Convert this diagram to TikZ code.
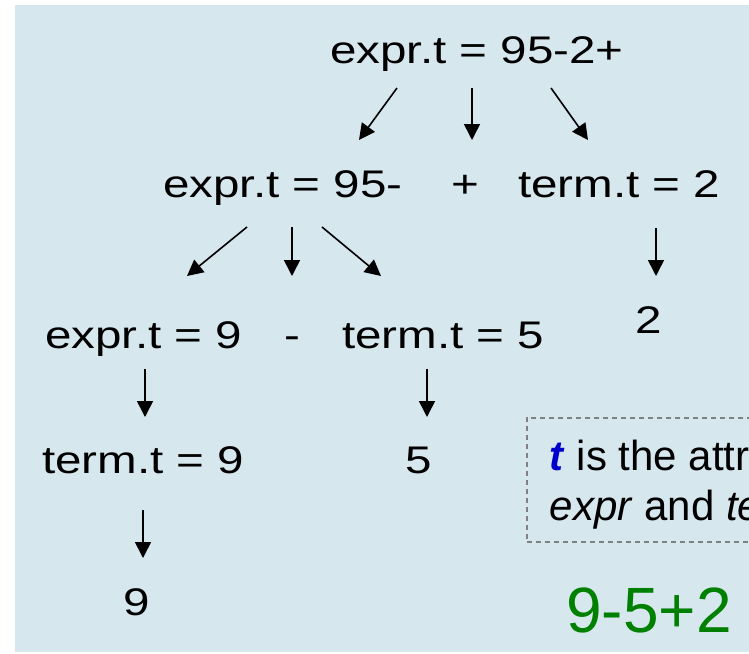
\documentclass[tikz,border=0pt]{standalone}
\usepackage{fontspec}
\setmainfont{Liberation Sans}
\newfontfamily\treefont[FakeStretch=1.235]{Liberation Sans}
\usetikzlibrary{arrows.meta, calc}
\definecolor{panelblue}{RGB}{214,231,237}
\definecolor{notegray}{RGB}{128,128,128}
\definecolor{attrblue}{RGB}{0,0,204}
\definecolor{resultgreen}{RGB}{0,128,0}
\tikzset{
  tree label/.style={
    font=\treefont\fontsize{38.5}{46}\selectfont,
    inner sep=0pt, anchor=base west
  },
  tree sym/.style={
    tree label, anchor=base
  },
  tree arrow/.style={
    -{Triangle[length=16pt,width=16pt]}, line width=1.6pt, draw=black
  },
  note box/.style={
    draw=notegray, line width=1.5pt, dash pattern=on 5pt off 4pt,
    font=\fontsize{42}{50}\selectfont, align=left,
    inner xsep=23pt, inner ysep=22pt, text depth=0pt, anchor=north west
  }
}

\begin{document}
\begin{tikzpicture}[x=1pt, y=-1pt]
\useasboundingbox (0,0) rectangle (749,653);
\clip (0,0) rectangle (749,653);

% ====== background panel ======
\fill[panelblue] (15,5) rectangle (760,652);

% ====== annotated parse tree ======
\node[tree label] (r1) at (330,63) {expr.t = 95-2+};

\node[tree label] (e95) at (163,197) {expr.t = 95-};
\node[tree sym] (plus) at (465,197) {+};
\node[tree label] (t2) at (518,197) {term.t = 2};

\node[tree label] (e9) at (45,348) {expr.t = 9};
\node[tree sym] (minus) at (292,348) {-};
\node[tree label] (t5) at (342,348) {term.t = 5};
\node[tree sym] (two) at (649,333) {2};

\node[tree label] (t9) at (42,473) {term.t = 9};
\node[tree sym] (five) at (419,473) {5};

\node[tree sym] (nine) at (137,615) {9};

% -- arrows, level 1 --
\draw[tree arrow] ($(r1.base west)+(67,25)$) -- ($(e95.base west)+(196,-57)$);
\draw[tree arrow] ($(r1.base west)+(142,25)$) -- ($(plus.base)+(7,-57)$);
\draw[tree arrow] ($(r1.base west)+(221,25)$) -- ($(t2.base west)+(70,-57)$);

% -- arrows, level 2 --
\draw[tree arrow] ($(e95.base west)+(84,30)$) -- ($(e9.base west)+(142,-72)$);
\draw[tree arrow] ($(e95.base west)+(129,30)$) -- ($(minus.base)+(0,-72)$);
\draw[tree arrow] ($(e95.base west)+(159,30)$) -- ($(t5.base west)+(39,-72)$);
\draw[tree arrow] ($(t2.base west)+(138,31)$) -- ($(two.base)+(7,-57)$);

% -- arrows, level 3 and 4 --
\draw[tree arrow] ($(e9.base west)+(100,21)$) -- ($(t9.base west)+(103,-56)$);
\draw[tree arrow] ($(t5.base west)+(85,21)$) -- ($(five.base)+(8,-56)$);
\draw[tree arrow] ($(t9.base west)+(101,37)$) -- ($(nine.base)+(6,-57)$);

% ====== note and input string ======
\node[note box] (note) at (526,417)
  {\textcolor{attrblue}{\textbf{\textit{t}}} is the attribute of\\
   \textit{expr} and \textit{term}};

\node[font=\fontsize{64}{70}\selectfont, text=resultgreen,
  inner sep=0pt, anchor=base west] (input) at (566,632) {9-5+2};

\end{tikzpicture}
\end{document}
